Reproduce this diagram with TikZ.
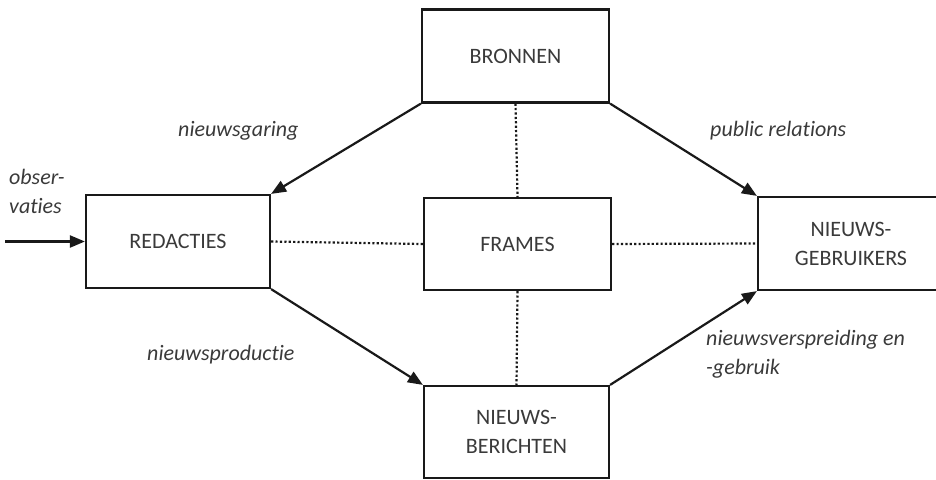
\documentclass[tikz,border=0pt]{standalone}
\usepackage{fontspec}
\setmainfont[Ligatures=NoCommon]{Carlito}
\usetikzlibrary{arrows.meta}
\definecolor{txt}{HTML}{3A3A3A}
\tikzset{
  box/.style={draw=black!90, line width=2.2pt, minimum width=#1, minimum height=93pt, inner sep=0pt, align=center, text=txt, font=\fontsize{22}{29}\selectfont},
  box/.default=186pt,
  arr/.style={draw=black!90, line width=2.2pt, -{Triangle[length=15pt,width=12pt]}},
  dot/.style={draw=black!90, line width=2.2pt, dash pattern=on 2.2pt off 2.2pt},
  lbl/.style={text=txt, font=\fontsize{22}{29}\selectfont\itshape, inner sep=0pt, align=left}
}
\begin{document}
\begin{tikzpicture}[x=1pt,y=-1pt]
\useasboundingbox (0,0) rectangle (936,479);
\node[box=187pt] (bronnen) at (515.5,56) {BRONNEN};
\node[box=184pt] (redacties) at (178,241.5) {REDACTIES};
\node[box=187pt,minimum height=92pt] (frames) at (517.5,244) {FRAMES};
\node[box=185pt,minimum height=92pt] (berichten) at (516.5,432) {NIEUWS-\\BERICHTEN};
\node[box=186pt] (gebruikers) at (851,243.5) {NIEUWS-\\GEBRUIKERS};
\coordinate (obs) at (5,241.5);
\draw[arr] (obs) -- (redacties.west);
\draw[arr] (bronnen.south west) -- (redacties.north east);
\draw[arr] (bronnen.south east) -- (gebruikers.north west);
\draw[arr] (redacties.south east) -- (berichten.north west);
\draw[arr] (berichten.north east) -- (gebruikers.south west);
\draw[dot] (bronnen.south) -- (frames.north);
\draw[dot] (frames.south) -- (berichten.north);
\draw[dot] (redacties.east) -- (frames.west);
\draw[dot] (frames.east) -- (gebruikers.west);
\node[lbl, anchor=north west] (obstxt) at (9,169) {obser-\\vaties};
\node[lbl, anchor=west] (garing) at (178,131) {nieuwsgaring};
\node[lbl, anchor=west] (pr) at (710,131) {public relations};
\node[lbl, anchor=west] (prod) at (147,355) {nieuwsproductie};
\node[lbl, anchor=north west] (versp) at (706,330) {nieuwsverspreiding en\\-gebruik};
\end{tikzpicture}
\end{document}
